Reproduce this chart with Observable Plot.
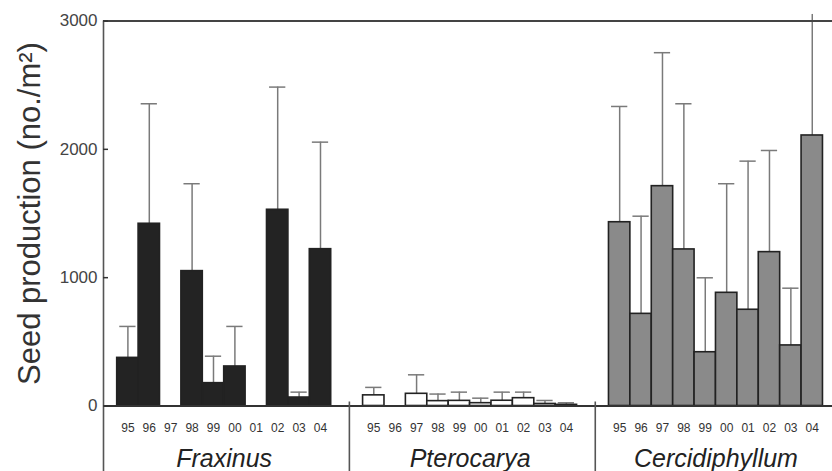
<!DOCTYPE html>
<html>
<head>
<meta charset="utf-8">
<script src="https://cdn.jsdelivr.net/npm/d3@7"></script>
<script src="https://cdn.jsdelivr.net/npm/@observablehq/plot@0.6"></script>
<style>
  html, body { margin: 0; padding: 0; background: #fff; }
  #chart svg { display: block; }
</style>
</head>
<body>
<div id="chart"></div>
<script>
// Seed production per year (mean and upper error limit, no./m²)
const years = ["95", "96", "97", "98", "99", "00", "01", "02", "03", "04"];
const genera = ["Fraxinus", "Pterocarya", "Cercidiphyllum"];
const genusFills = ["#232323", "#ffffff", "#8a8a8a"];

const fraxinusMean  = [375, 1420, 0, 1051, 178, 308, 0, 1529, 66, 1222];
const fraxinusUpper = [620, 2355, 0, 1732, 388, 620, 0, 2485, 108, 2056];

const pterocaryaMean  = [83, 0, 95, 38, 40, 22, 41, 61, 16, 9];
const pterocaryaUpper = [145, 0, 243, 93, 108, 61, 108, 108, 43, 25];

const cercidiphyllumMean  = [1432, 718, 1713, 1220, 419, 882, 750, 1199, 472, 2108];
const cercidiphyllumUpper = [2334, 1479, 2753, 2355, 999, 1732, 1908, 1991, 918, 3051];

const yTicks = [0, 1000, 2000, 3000];

// Layout along x, measured in bar slots (one slot = one year's bar)
const groupStep = 11.49;   // slots from one genus block to the next
const leftGap = 0.64;      // space between a divider and the first bar of its block
const slotPx = 21.4;
const W = 832, H = 471;
const mLeft = 103, mRight = 0, mTop = 20.5, mBottom = 65.5;

const meansByGenus = [fraxinusMean, pterocaryaMean, cercidiphyllumMean];
const upperByGenus = [fraxinusUpper, pterocaryaUpper, cercidiphyllumUpper];

const slots = [];
genera.forEach((genus, gi) => {
  years.forEach((year, i) => {
    const start = gi * groupStep + i;
    slots.push({
      genus, year,
      x1: start, x2: start + 1, xc: start + 0.5,
      mean: meansByGenus[gi][i],
      upper: upperByGenus[gi][i]
    });
  });
});
const bars = slots.filter(d => d.mean > 0);

const yMax = yTicks[yTicks.length - 1];
const pxPerUnit = (H - mTop - mBottom) / yMax;
const yBottom = -mBottom / pxPerUnit;       // value at the bottom edge of the svg
const dividerTop = 4 / pxPerUnit;           // small stub above the baseline
const tickLen = 5 / slotPx;                 // inward tick length in slot units

const chart = Plot.plot({
  width: W,
  height: H,
  marginLeft: mLeft,
  marginRight: mRight,
  marginTop: mTop,
  marginBottom: mBottom,
  style: { fontFamily: "'Liberation Sans', Arial, sans-serif", background: "#fff" },
  x: { domain: [-leftGap, -leftGap + (W - mLeft - mRight) / slotPx], axis: null },
  y: { domain: [0, yMax], axis: null },
  color: { domain: genera, range: genusFills },
  marks: [
    // error bars (upper limit only)
    Plot.ruleX(bars, { x: "xc", y1: "mean", y2: "upper", stroke: "#7a7a7a", strokeWidth: 1.5 }),
    Plot.ruleY(bars.filter(d => d.upper <= yMax), {
      x1: d => d.xc - 0.38, x2: d => d.xc + 0.38, y: "upper",
      stroke: "#7a7a7a", strokeWidth: 1.5
    }),
    // bars
    Plot.rectY(bars, {
      x1: "x1", x2: "x2", y: "mean", fill: "genus",
      stroke: "#222", strokeWidth: 1.6
    }),
    // baseline and top border
    Plot.ruleY([0], { stroke: "#333", strokeWidth: 2 }),
    Plot.ruleY([yMax], { stroke: "#444", strokeWidth: 2 }),
    // left axis line and block dividers, reaching down through the labels
    Plot.ruleX(genera, {
      x: (d, i) => i * groupStep - leftGap,
      y1: (d, i) => (i === 0 ? yMax : dividerTop),
      y2: yBottom,
      stroke: "#555", strokeWidth: 1.6
    }),
    // inward y ticks
    Plot.ruleY(yTicks, { x1: -leftGap, x2: -leftGap + tickLen, stroke: "#333", strokeWidth: 1.5 }),
    // y tick labels
    Plot.axisY(yTicks, {
      tickSize: 0, tickPadding: 6, fontSize: 17, fill: "#444", stroke: "none",
      tickFormat: d3.format("d"), label: null
    }),
    // y axis title
    Plot.text(["Seed production (no./m²)"], {
      frameAnchor: "left", rotate: -90, dx: -73,
      fontSize: 31, fill: "#333", textAnchor: "middle", lineAnchor: "middle"
    }),
    // year labels under each bar slot
    Plot.text(slots, {
      x: "xc", text: "year", frameAnchor: "bottom", dy: 22.5,
      fontSize: 12, fill: "#333", lineAnchor: "middle"
    }),
    // genus names
    Plot.text(genera, {
      x: (d, i) => i * groupStep + 5, text: d => d, frameAnchor: "bottom", dy: 53,
      fontSize: 25, fontStyle: "italic", fill: "#222", lineAnchor: "middle"
    })
  ]
});

document.getElementById("chart").appendChild(chart);
</script>
</body>
</html>
